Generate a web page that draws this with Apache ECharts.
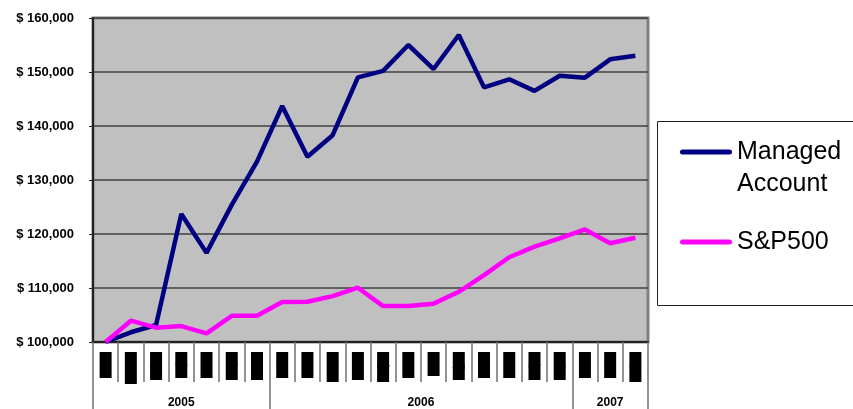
<!DOCTYPE html>
<html><head><meta charset="utf-8">
<script src="https://cdn.jsdelivr.net/npm/echarts@6/dist/echarts.min.js"></script>
<style>html,body{margin:0;padding:0;background:#fff}#c{width:853px;height:409px}</style>
</head><body><div id="c"></div>
<script>
const months = ['Jun','Jul','Aug','Sep','Oct','Nov','Dec','Jan','Feb','Mar','Apr','May','Jun','Jul','Aug','Sep','Oct','Nov','Dec','Jan','Feb','Mar'];
const years = ['2005','2006','2007'];
const monthsPerYear = [7, 12, 3];
const managedAccount = [100000, 101800, 103150, 123700, 116500, 125400, 133400, 143700, 134300, 138300, 149000, 150200, 155000, 150550, 156850, 147150, 148650, 146500, 149300, 148950, 152350, 153000];
const sp500 = [100000, 103950, 102650, 102950, 101600, 104850, 104850, 107400, 107450, 108500, 110050, 106650, 106650, 107100, 109300, 112400, 115700, 117650, 119200, 120850, 118300, 119300];
const yMin = 100000, yMax = 160000, yStep = 10000;

// style: heights of the black month-label boxes (as rendered in the reference)
const boxH = [26, 32, 28, 26, 26, 28, 28, 26, 26, 30, 28, 30, 26, 24, 28, 26, 26, 28, 28, 26, 26, 30];
const rich = {};
boxH.forEach((h, i) => { rich['b' + i] = {backgroundColor: '#000', color: '#000', width: 12, height: h, fontSize: 7, align: 'center', verticalAlign: 'top'}; });

// second (year) axis built on half-month slots
const total = monthsPerYear.reduce((a, b) => a + b, 0);
const slots = new Array(total * 2 + 1).fill('');
const sepIdx = [0];
const yearIdx = [];
let acc = 0;
monthsPerYear.forEach((n, k) => {
  yearIdx.push(acc * 2 + n);
  slots[acc * 2 + n] = years[k];
  acc += n;
  sepIdx.push(acc * 2);
});

const font = 'Liberation Sans, Arial, sans-serif';
const chart = echarts.init(document.getElementById('c'), null, {renderer: 'canvas'});
const lineIcon = 'path://M2.5,0H49.5A2.5,2.5,0,0,1,49.5,5H2.5A2.5,2.5,0,0,1,2.5,0Z';
chart.setOption({
  animation: false,
  backgroundColor: '#fff',
  grid: {left: 93, top: 18, width: 555, height: 324, show: true, backgroundColor: '#C0C0C0', borderColor: '#808080', borderWidth: 3},
  legend: [
    {data: ['Managed Account'], left: 680, top: 136, padding: 0, orient: 'vertical',
     itemWidth: 52, itemHeight: 37, icon: 'path://M2.5,0H49.5A2.5,2.5,0,0,1,49.5,5H2.5A2.5,2.5,0,0,1,2.5,0Z M0,37L52,37',
     itemStyle: {borderWidth: 0},
     formatter: n => n.replace(' ', '\n'),
     textStyle: {fontSize: 25, lineHeight: 32, color: '#000', fontFamily: font}},
    {data: ['S&P500'], left: 680, top: 226, padding: 0, orient: 'vertical',
     itemWidth: 52, itemHeight: 5, icon: lineIcon, itemStyle: {borderWidth: 0},
     textStyle: {fontSize: 25, lineHeight: 32, color: '#000', fontFamily: font}}
  ],
  graphic: [{type: 'rect', shape: {x: 657.5, y: 121.5, width: 220, height: 184}, style: {fill: 'none', stroke: '#222', lineWidth: 1}, silent: true}],
  xAxis: [
    {type: 'category', data: months, boundaryGap: true, position: 'bottom',
     axisLine: {show: true, lineStyle: {color: '#222', width: 2}},
     axisTick: {show: true, interval: 0, length: 40, lineStyle: {color: '#707070', width: 1.5}},
     axisLabel: {interval: 0, margin: 10, formatter: (v, i) => '{b' + i + '|' + v + '}', rich: rich}},
    {type: 'category', data: slots, boundaryGap: false, position: 'bottom', offset: 0,
     axisLine: {show: false},
     axisTick: {show: true, interval: i => sepIdx.includes(i), length: 67, lineStyle: {color: '#707070', width: 1.5}},
     axisLabel: {interval: i => yearIdx.includes(i), margin: 55, fontSize: 12, fontWeight: 'bold', color: '#000', fontFamily: font}}
  ],
  yAxis: {type: 'value', min: yMin, max: yMax, interval: yStep,
    axisLine: {show: true, lineStyle: {color: '#222', width: 2}},
    axisTick: {show: true, length: 4, lineStyle: {color: '#222'}},
    splitLine: {show: true, lineStyle: {color: '#404040', width: 1.5}},
    axisLabel: {margin: 19, fontSize: 13, fontWeight: 'bold', color: '#000', fontFamily: font,
      formatter: v => '$ ' + v.toLocaleString('en-US')}},
  series: [
    {name: 'Managed Account', type: 'line', data: managedAccount, symbol: 'none', color: '#000080',
     lineStyle: {width: 4.5, color: '#000080'}},
    {name: 'S&P500', type: 'line', data: sp500, symbol: 'none', color: '#FF00FF',
     lineStyle: {width: 4.5, color: '#FF00FF'}}
  ]
});
</script></body></html>
